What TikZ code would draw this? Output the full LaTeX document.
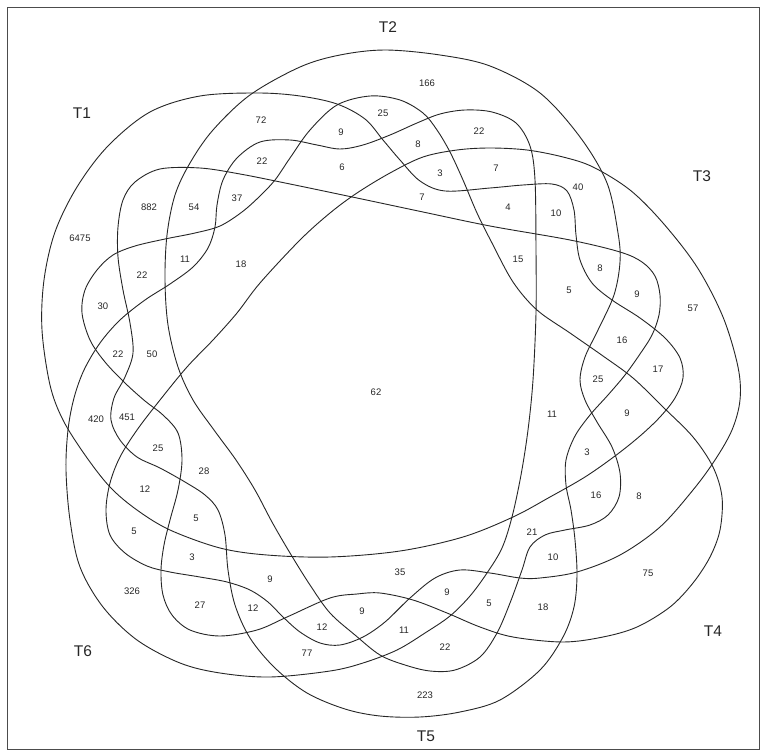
\documentclass[tikz,border=0pt]{standalone}
\usepackage{fontspec}
\setmainfont{Liberation Sans}
\tikzset{
  venn/.style={draw=black!85, line width=0.9pt},
  num/.style={font=\fontsize{9.5}{10}\selectfont, inner sep=0pt, text=black!85},
  setlab/.style={font=\fontsize{15.5}{17}\selectfont, inner sep=0pt, text=black!85},
  frame/.style={draw=black!70, line width=0.8pt}
}
\begin{document}
\begin{tikzpicture}[x=1pt,y=-1pt]
\useasboundingbox (0,0) rectangle (763,752);
\fill[white] (0,0) rectangle (763,752);
\draw[frame] (7,7) rectangle (759,749);
% T1
\draw[venn] plot[smooth cycle, tension=0.55] coordinates {
(42,330) (44,280) (55,232) (77,187) (108,146) (150,112) (200,96) (258,93) (300,96) (337,104)
(365,119) (383,140) (400,160) (420,181) (445,191) (490,188) (523,185) (552,184) (567,191)
(574,210) (576,235) (580,260) (592,283) (612,300) (640,318) (665,338) (680,358) (683,378)
(675,398) (660,417) (640,436) (615,456) (585,477) (550,497) (513,517) (463,537) (400,551)
(330,557) (267,555) (220,548) (170,530) (137,510) (110,487) (85,455) (63,420) (50,385)};
% T2
\draw[venn] plot[smooth cycle, tension=0.55] coordinates {
(385,50) (440,55) (490,66) (540,93) (580,137) (607,183) (618,233) (620,262) (614,295)
(598,330) (585,357) (580,380) (585,400) (597,422) (612,447) (620,473) (619,497) (608,515)
(590,525) (565,530) (545,535) (530,547) (522,570) (510,603) (497,633) (480,657) (455,670)
(430,671) (405,665) (380,655) (355,635) (330,613) (310,585) (290,553) (272,522) (255,490)
(236,460) (214,430) (193,400) (178,367) (168,325) (165,280) (167,235) (175,195) (190,163)
(213,130) (250,95) (300,67) (340,55)};
% T3
\draw[venn] plot[smooth cycle, tension=0.55] coordinates {
(160,400) (187,367) (213,340) (237,313) (260,283) (300,240) (330,213) (357,193) (390,173)
(423,157) (457,150) (490,148) (527,150) (563,157) (593,167) (630,190) (663,223) (697,267)
(723,317) (738,367) (740,400) (732,430) (715,460) (693,490) (660,527) (620,555) (577,572)
(540,578) (520,578) (490,573) (460,570) (435,578) (410,598) (385,622) (363,637) (340,645)
(320,643) (300,632) (283,617) (268,602) (250,590) (227,582) (200,577) (170,572) (147,566)
(125,553) (110,535) (106,510) (110,483) (120,457) (137,430)};
% T4
\draw[venn] plot[smooth cycle, tension=0.55] coordinates {
(330,598) (287,617) (257,630) (220,636) (190,630) (172,615) (163,595) (161,570) (164,545)
(170,520) (178,490) (182,460) (178,433) (163,415) (145,401) (125,383) (105,362) (90,340)
(82,313) (85,290) (97,270) (113,255) (135,246) (165,239) (195,233) (220,226) (242,212)
(260,196) (275,180) (290,158) (310,130) (337,105) (370,96) (400,100) (423,113) (437,130)
(450,152) (463,180) (477,213) (492,243) (513,282) (537,310) (570,333) (603,356) (633,378)
(663,407) (693,437) (713,467) (722,497) (720,530) (710,557) (693,583) (670,607) (637,627)
(603,637) (563,642) (513,637) (480,627) (447,613) (413,600) (380,593) (357,594)};
% T5
\draw[venn] plot[smooth cycle, tension=0.55] coordinates {
(160,169) (200,168) (240,174) (290,184) (357,198) (423,212) (490,226) (570,240) (620,252)
(642,262) (655,276) (660,295) (659,315) (652,335) (640,354) (625,375) (608,395) (590,415)
(575,436) (566,460) (566,485) (571,510) (575,540) (577,575) (574,607) (563,637) (540,670)
(500,700) (460,712) (420,717) (380,716) (345,709) (307,693) (275,668) (250,638) (235,605)
(228,570) (225,535) (218,510) (205,495) (185,482) (160,468) (137,457) (120,440) (111,420)
(114,398) (125,377) (133,353) (130,323) (123,290) (118,257) (118,227) (123,200) (135,182)};
% T6
\draw[venn] plot[smooth cycle, tension=0.55] coordinates {
(330,671) (270,677) (220,673) (180,663) (137,640) (103,607) (80,567) (70,520) (66,470)
(68,430) (74,398) (84,370) (100,343) (120,320) (145,300) (170,284) (193,267) (208,248)
(215,227) (217,205) (223,180) (237,158) (260,142) (290,140) (317,145) (340,149) (363,145)
(390,135) (417,123) (440,114) (465,110) (492,112) (516,123) (530,146) (535,180) (536,250)
(536,313) (533,380) (528,430) (521,475) (512,517) (502,548) (487,573) (470,596) (450,616)
(425,633) (397,650) (363,663)};
% set labels
\node[setlab] (t1) at (82,113) {T1};
\node[setlab] (t2) at (388,27) {T2};
\node[setlab] (t3) at (702,176) {T3};
\node[setlab] (t4) at (713,631) {T4};
\node[setlab] (t5) at (426,736) {T5};
\node[setlab] (t6) at (83,651) {T6};
% region counts
\foreach \px/\py/\t [count=\i] in {
427/83/166, 261/120/72, 383/113/25, 479/131/22, 341/132/9, 418/144/8, 262/161/22,
342/167/6, 440/173/3, 496/168/7, 578/187/40, 422/197/7, 508/207/4, 556/213/10,
149/207/882, 194/207/54, 237/198/37, 80/238/6475, 185/259/11, 241/264/18, 518/259/15,
142/275/22, 600/268/8, 569/290/5, 637/294/9, 693/308/57, 103/306/30, 622/340/16,
118/354/22, 152/354/50, 658/369/17, 598/379/25, 376/392/62, 552/414/11, 627/413/9,
96/419/420, 127/417/451, 158/448/25, 587/452/3, 204/471/28, 145/489/12, 596/495/16,
639/496/8, 196/518/5, 134/531/5, 532/532/21, 192/557/3, 553/557/10, 400/572/35,
648/573/75, 270/579/9, 447/592/9, 132/591/326, 200/605/27, 253/608/12, 489/603/5,
543/607/18, 362/611/9, 322/627/12, 404/630/11, 445/647/22, 307/653/77, 425/695/223}
  \node[num] (n\i) at (\px,\py) {\t};
\end{tikzpicture}
\end{document}
